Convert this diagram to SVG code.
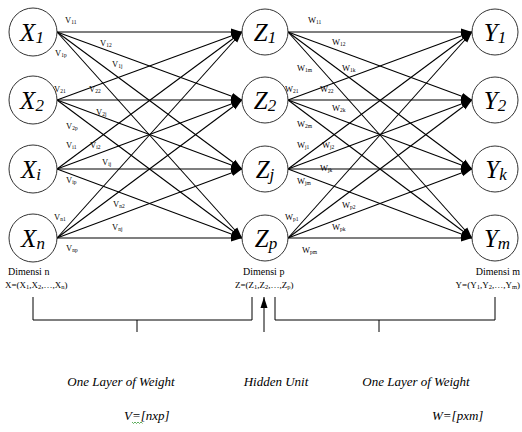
<svg xmlns="http://www.w3.org/2000/svg" width="522" height="432" viewBox="0 0 522 432">
<style>
text{font-family:'Liberation Serif','Times New Roman','DejaVu Serif',serif}
.node{fill:#fff;stroke:#333;stroke-width:1}
.nl{font-style:italic;font-size:25px;fill:#000;text-anchor:middle}
.ns{font-size:17px}
.c line{stroke:#000;stroke-width:1.1}
.w{font-size:8.5px;fill:#000}
.ws{font-size:5.5px}
.d{font-size:10px;fill:#000}
.ds{font-size:6.5px}
.it{font-style:italic;font-size:13px;fill:#000}
.br{fill:none;stroke:#000;stroke-width:1}
</style>
<defs>
<marker id="ah" markerUnits="userSpaceOnUse" markerWidth="12" markerHeight="10" refX="11" refY="4" orient="auto">
<path d="M0,0.5 L11,4 L0,7.5 z" fill="#000"/>
</marker>
</defs>
<g class="c" id="connectors">
<line x1="57" y1="32" x2="242" y2="32" marker-end="url(#ah)"/>
<line x1="57" y1="32" x2="242" y2="100" marker-end="url(#ah)"/>
<line x1="57" y1="32" x2="242" y2="169" marker-end="url(#ah)"/>
<line x1="57" y1="32" x2="242" y2="238" marker-end="url(#ah)"/>
<line x1="57" y1="100" x2="242" y2="32" marker-end="url(#ah)"/>
<line x1="57" y1="100" x2="242" y2="100" marker-end="url(#ah)"/>
<line x1="57" y1="100" x2="242" y2="169" marker-end="url(#ah)"/>
<line x1="57" y1="100" x2="242" y2="238" marker-end="url(#ah)"/>
<line x1="57" y1="169" x2="242" y2="32" marker-end="url(#ah)"/>
<line x1="57" y1="169" x2="242" y2="100" marker-end="url(#ah)"/>
<line x1="57" y1="169" x2="242" y2="169" marker-end="url(#ah)"/>
<line x1="57" y1="169" x2="242" y2="238" marker-end="url(#ah)"/>
<line x1="57" y1="238" x2="242" y2="32" marker-end="url(#ah)"/>
<line x1="57" y1="238" x2="242" y2="100" marker-end="url(#ah)"/>
<line x1="57" y1="238" x2="242" y2="169" marker-end="url(#ah)"/>
<line x1="57" y1="238" x2="242" y2="238" marker-end="url(#ah)"/>
<line x1="288" y1="32" x2="472" y2="32" marker-end="url(#ah)"/>
<line x1="288" y1="32" x2="472" y2="100" marker-end="url(#ah)"/>
<line x1="288" y1="32" x2="472" y2="169" marker-end="url(#ah)"/>
<line x1="288" y1="32" x2="472" y2="238" marker-end="url(#ah)"/>
<line x1="288" y1="100" x2="472" y2="32" marker-end="url(#ah)"/>
<line x1="288" y1="100" x2="472" y2="100" marker-end="url(#ah)"/>
<line x1="288" y1="100" x2="472" y2="169" marker-end="url(#ah)"/>
<line x1="288" y1="100" x2="472" y2="238" marker-end="url(#ah)"/>
<line x1="288" y1="169" x2="472" y2="32" marker-end="url(#ah)"/>
<line x1="288" y1="169" x2="472" y2="100" marker-end="url(#ah)"/>
<line x1="288" y1="169" x2="472" y2="169" marker-end="url(#ah)"/>
<line x1="288" y1="169" x2="472" y2="238" marker-end="url(#ah)"/>
<line x1="288" y1="238" x2="472" y2="32" marker-end="url(#ah)"/>
<line x1="288" y1="238" x2="472" y2="100" marker-end="url(#ah)"/>
<line x1="288" y1="238" x2="472" y2="169" marker-end="url(#ah)"/>
<line x1="288" y1="238" x2="472" y2="238" marker-end="url(#ah)"/>
</g>
<g id="X1"><circle class="node" cx="33" cy="32" r="24"/><text class="nl" x="32" y="41">X<tspan class="ns" dy="2">1</tspan></text></g>
<g id="X2"><circle class="node" cx="33" cy="100" r="24"/><text class="nl" x="32" y="109">X<tspan class="ns" dy="2">2</tspan></text></g>
<g id="Xi"><circle class="node" cx="33" cy="169" r="24"/><text class="nl" x="31" y="178">X<tspan class="ns" dy="2">i</tspan></text></g>
<g id="Xn"><circle class="node" cx="33" cy="238" r="24"/><text class="nl" x="33" y="247">X<tspan class="ns" dy="2">n</tspan></text></g>
<g id="Z1"><circle class="node" cx="265" cy="32" r="23"/><text class="nl" x="265" y="41">Z<tspan class="ns" dy="2">1</tspan></text></g>
<g id="Z2"><circle class="node" cx="265" cy="100" r="23"/><text class="nl" x="265" y="109">Z<tspan class="ns" dy="2">2</tspan></text></g>
<g id="Zj"><circle class="node" cx="265" cy="169" r="23"/><text class="nl" x="265" y="178">Z<tspan class="ns" dy="2">j</tspan></text></g>
<g id="Zp"><circle class="node" cx="265" cy="238" r="23"/><text class="nl" x="266" y="247">Z<tspan class="ns" dy="2">p</tspan></text></g>
<g id="Y1"><circle class="node" cx="495" cy="32" r="23"/><text class="nl" x="495" y="41">Y<tspan class="ns" dy="2">1</tspan></text></g>
<g id="Y2"><circle class="node" cx="495" cy="100" r="23"/><text class="nl" x="495" y="109">Y<tspan class="ns" dy="2">2</tspan></text></g>
<g id="Yk"><circle class="node" cx="495" cy="169" r="23"/><text class="nl" x="496" y="178">Y<tspan class="ns" dy="2">k</tspan></text></g>
<g id="Ym"><circle class="node" cx="495" cy="238" r="23"/><text class="nl" x="497" y="247">Y<tspan class="ns" dy="2">m</tspan></text></g>
<g id="weightsV">
<text class="w" x="65" y="23">V<tspan class="ws" dy="1">11</tspan></text>
<text class="w" x="100" y="46">V<tspan class="ws" dy="1">12</tspan></text>
<text class="w" x="55" y="56">V<tspan class="ws" dy="1">1p</tspan></text>
<text class="w" x="112" y="67">V<tspan class="ws" dy="1">1j</tspan></text>
<text class="w" x="54" y="92">V<tspan class="ws" dy="1">21</tspan></text>
<text class="w" x="89" y="92">V<tspan class="ws" dy="1">22</tspan></text>
<text class="w" x="96" y="115">V<tspan class="ws" dy="1">2j</tspan></text>
<text class="w" x="66" y="129">V<tspan class="ws" dy="1">2p</tspan></text>
<text class="w" x="66" y="148">V<tspan class="ws" dy="1">i1</tspan></text>
<text class="w" x="90" y="148">V<tspan class="ws" dy="1">i2</tspan></text>
<text class="w" x="102" y="165">V<tspan class="ws" dy="1">ij</tspan></text>
<text class="w" x="66" y="183">V<tspan class="ws" dy="1">ip</tspan></text>
<text class="w" x="113" y="207">V<tspan class="ws" dy="1">n2</tspan></text>
<text class="w" x="54" y="220">V<tspan class="ws" dy="1">n1</tspan></text>
<text class="w" x="112" y="230">V<tspan class="ws" dy="1">nj</tspan></text>
<text class="w" x="66" y="251">V<tspan class="ws" dy="1">np</tspan></text>
</g>
<g id="weightsW">
<text class="w" x="308" y="23">W<tspan class="ws" dy="1">11</tspan></text>
<text class="w" x="332" y="45">W<tspan class="ws" dy="1">12</tspan></text>
<text class="w" x="297" y="71">W<tspan class="ws" dy="1">1m</tspan></text>
<text class="w" x="342" y="71">W<tspan class="ws" dy="1">1k</tspan></text>
<text class="w" x="285" y="92">W<tspan class="ws" dy="1">21</tspan></text>
<text class="w" x="320" y="92">W<tspan class="ws" dy="1">22</tspan></text>
<text class="w" x="332" y="111">W<tspan class="ws" dy="1">2k</tspan></text>
<text class="w" x="297" y="127">W<tspan class="ws" dy="1">2m</tspan></text>
<text class="w" x="297" y="148">W<tspan class="ws" dy="1">j1</tspan></text>
<text class="w" x="322" y="148">W<tspan class="ws" dy="1">j2</tspan></text>
<text class="w" x="320" y="171">W<tspan class="ws" dy="1">jk</tspan></text>
<text class="w" x="297" y="184">W<tspan class="ws" dy="1">jm</tspan></text>
<text class="w" x="342" y="208">W<tspan class="ws" dy="1">p2</tspan></text>
<text class="w" x="285" y="220">W<tspan class="ws" dy="1">p1</tspan></text>
<text class="w" x="332" y="230">W<tspan class="ws" dy="1">pk</tspan></text>
<text class="w" x="302" y="253">W<tspan class="ws" dy="1">pm</tspan></text>
</g>
<g id="dims">
<text class="d" x="8" y="275">Dimensi n</text>
<text class="d" x="5" y="288" style="font-size:9px">X=(X<tspan class="ds" dy="1">1</tspan><tspan dy="-1">,X</tspan><tspan class="ds" dy="1">2</tspan><tspan dy="-1">,…,X</tspan><tspan class="ds" dy="1">n</tspan><tspan dy="-1">)</tspan></text>
<text class="d" x="243" y="275">Dimensi p</text>
<text class="d" x="235" y="288" style="font-size:9px">Z=(Z<tspan class="ds" dy="1">1</tspan><tspan dy="-1">,Z</tspan><tspan class="ds" dy="1">2</tspan><tspan dy="-1">,…,Z</tspan><tspan class="ds" dy="1">p</tspan><tspan dy="-1">)</tspan></text>
<text class="d" x="520" y="275" text-anchor="end">Dimensi m</text>
<text class="d" x="520" y="288" text-anchor="end" style="font-size:9px">Y=(Y<tspan class="ds" dy="1">1</tspan><tspan dy="-1">,Y</tspan><tspan class="ds" dy="1">2</tspan><tspan dy="-1">,…,Y</tspan><tspan class="ds" dy="1">m</tspan><tspan dy="-1">)</tspan></text>
</g>
<g id="brackets">
<polyline class="br" points="33,297 33,320 252,320 252,297"/>
<line class="br" x1="137" y1="320" x2="137" y2="332"/>
<polyline class="br" points="275,297 275,320 495,320 495,297"/>
<line class="br" x1="379" y1="320" x2="379" y2="332"/>
<line class="br" x1="264" y1="332" x2="264" y2="297" marker-end="url(#ah)"/>
</g>
<g id="captions">
<text class="it" x="121" y="386" text-anchor="middle">One Layer of Weight</text>
<text class="it" x="276" y="386" text-anchor="middle">Hidden Unit</text>
<text class="it" x="416" y="386" text-anchor="middle">One Layer of Weight</text>
<text class="it" x="124" y="420">V=[nxp]</text>
<text class="it" x="432" y="420">W=[pxm]</text>
<path d="M132,422 l1.5,1.5 l1.5,-1.5 l1.5,1.5 l1.5,-1.5 l1.5,1.5 l1.5,-1.5 l1.5,1.5" fill="none" stroke="#3a9a3a" stroke-width="0.8"/>
</g>
</svg>
